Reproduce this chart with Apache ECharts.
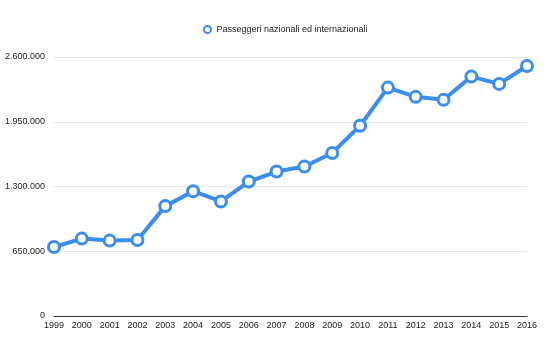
<!DOCTYPE html>
<html><head><meta charset="utf-8">
<script src="https://cdn.jsdelivr.net/npm/echarts@6/dist/echarts.min.js"></script>
<style>html,body{margin:0;padding:0;background:#fff}#c{width:550px;height:359px}</style>
</head><body><div id="c"></div>
<script>
const categories = ['1999','2000','2001','2002','2003','2004','2005','2006','2007','2008','2009','2010','2011','2012','2013','2014','2015','2016'];
const passeggeri = [693000,777000,757000,763000,1103000,1253000,1150000,1350000,1450000,1500000,1637000,1910000,2293000,2200000,2170000,2403000,2330000,2510000];
const seriesName = 'Passeggeri nazionali ed internazionali';
const yTicks = {min:0, max:2600000, interval:650000};

function fmt(v){ return String(v).replace(/\B(?=(\d{3})+(?!\d))/g,'.'); }

const chart = echarts.init(document.getElementById('c'), null, {renderer:'canvas'});
chart.setOption({
  animation:false,
  textStyle:{fontFamily:'Liberation Sans, Arial, sans-serif'},
  legend:{
    top:20, left:198,
    itemWidth:8, itemHeight:7,
    textStyle:{fontSize:9, color:'#222'},
    data:[{name:seriesName, icon:'circle', itemStyle:{borderWidth:2}}]
  },
  grid:{left:54, right:23, top:57, bottom:43, containLabel:false, outerBoundsMode:'none'},
  xAxis:{
    type:'category', data:categories, boundaryGap:false,
    axisLine:{lineStyle:{color:'#333', width:1}},
    axisTick:{show:false},
    axisLabel:{color:'#222', fontSize:9, margin:5, interval:0}
  },
  yAxis:{
    type:'value', min:yTicks.min, max:yTicks.max, interval:yTicks.interval,
    axisLine:{show:false}, axisTick:{show:false},
    splitLine:{lineStyle:{color:'#e6e6e6'}},
    axisLabel:{color:'#222', fontSize:9, margin:9, formatter:fmt}
  },
  series:[{
    name:seriesName, type:'line', data:passeggeri,
    lineStyle:{color:'#3a8df2', width:4},
    itemStyle:{color:'#fff', borderColor:'#3a8df2', borderWidth:3},
    symbol:'circle', symbolSize:11, showAllSymbol:true
  }]
});
</script></body></html>
